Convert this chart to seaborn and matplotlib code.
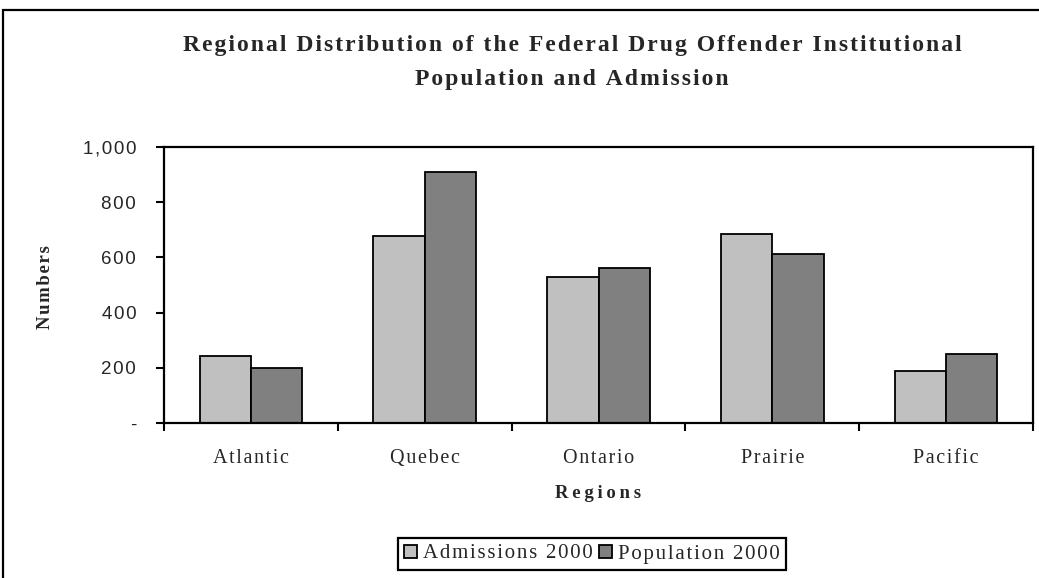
import matplotlib
matplotlib.use("Agg")
import matplotlib.pyplot as plt
from matplotlib.patches import Rectangle
import pandas as pd
import seaborn as sns

regions = ["Atlantic", "Quebec", "Ontario", "Prairie", "Pacific"]
admissions_2000 = [244, 679, 528, 686, 187]
population_2000 = [200, 911, 563, 614, 251]
series_names = ["Admissions 2000", "Population 2000"]
y_ticks = [0, 200, 400, 600, 800, 1000]
y_tick_labels = ["-", "200", "400", "600", "800", "1,000"]

HAIR = "\u200a"
THIN = "\u2009"


def spaced(text, sep=HAIR):
    """Widen the tracking of a label by putting a narrow space between glyphs."""
    return sep.join(text)


df = pd.DataFrame({
    "Region": regions * 2,
    "Series": [series_names[0]] * len(regions) + [series_names[1]] * len(regions),
    "Value": admissions_2000 + population_2000,
})

sns.set_theme(style="white")
plt.rcParams["font.family"] = ["Liberation Serif", "DejaVu Serif"]
SERIF = ["Liberation Serif", "DejaVu Serif"]
SANS = ["Liberation Sans", "DejaVu Sans"]

W, H = 1039, 578
fig = plt.figure(figsize=(W / 100, H / 100), dpi=100)
ax = fig.add_axes([164 / W, 1 - 423 / H, (1033 - 164) / W, (423 - 147) / H])

sns.barplot(data=df, x="Region", y="Value", hue="Series", order=regions,
            hue_order=series_names, palette=["#C0C0C0", "#808080"],
            width=0.59, gap=0, edgecolor="black", linewidth=1.3,
            errorbar=None, ax=ax, legend=False)

ax.set_xlim(-0.5, len(regions) - 0.5)
ax.set_ylim(0, 1000)

# category boundaries carry the tick marks, names sit between them
ax.set_xticks([i - 0.5 for i in range(len(regions) + 1)])
ax.set_xticklabels([])
ax.set_xticks(range(len(regions)), minor=True)
ax.set_xticklabels([spaced(r) for r in regions], minor=True, fontsize=14.5,
                   family=SERIF)
ax.tick_params(axis="x", which="major", direction="out", length=6, width=1.5,
               color="black", bottom=True)
ax.tick_params(axis="x", which="minor", length=0, pad=19)

ax.set_yticks(y_ticks)
ax.set_yticklabels([spaced(t) for t in y_tick_labels], fontsize=13.5, family=SANS)
ax.tick_params(axis="y", direction="out", length=6, width=1.5, color="black",
               left=True, pad=14)

for s in ax.spines.values():
    s.set_visible(True)
    s.set_color("black")
    s.set_linewidth(1.6)

ax.set_xlabel("")
ax.set_ylabel("")
fig.text(598 / W, 1 - 493 / H, spaced("Regions", THIN), ha="center", va="center",
         fontsize=13.5, fontweight="bold", family=SERIF)
fig.text(45 / W, 1 - 287 / H, spaced("Numbers"), ha="center", va="center",
         rotation=90, fontsize=13.5, fontweight="bold", family=SERIF)

title_lines = ["Regional Distribution of the Federal Drug Offender Institutional",
               "Population and Admission"]
for line, ypx in zip(title_lines, [45, 80]):
    fig.text(572 / W, 1 - ypx / H, spaced(line), ha="center", va="center",
             fontsize=17, fontweight="bold", family=SERIF)

handles = [Rectangle((0, 0), 1, 1, facecolor=c, edgecolor="black", linewidth=1.3)
           for c in ["#C0C0C0", "#808080"]]
leg = fig.legend(handles, [spaced(n) for n in series_names], loc="center", ncol=2,
                 bbox_to_anchor=(592 / W, 1 - 554 / H), frameon=True,
                 fancybox=False, framealpha=1, edgecolor="black",
                 prop={"family": SERIF, "size": 15},
                 handlelength=0.6, handleheight=0.6, handletextpad=0.3,
                 columnspacing=0.3, borderpad=0.3, borderaxespad=0)
leg.get_frame().set_linewidth(1.6)

# outer chart border running off the right and bottom edges
fig.patches.append(Rectangle((3 / W, -0.1), 1.2, 1 - 10 / H + 0.1,
                             transform=fig.transFigure, fill=False,
                             edgecolor="black", linewidth=1.6))

fig.savefig("out.png", dpi=100)
